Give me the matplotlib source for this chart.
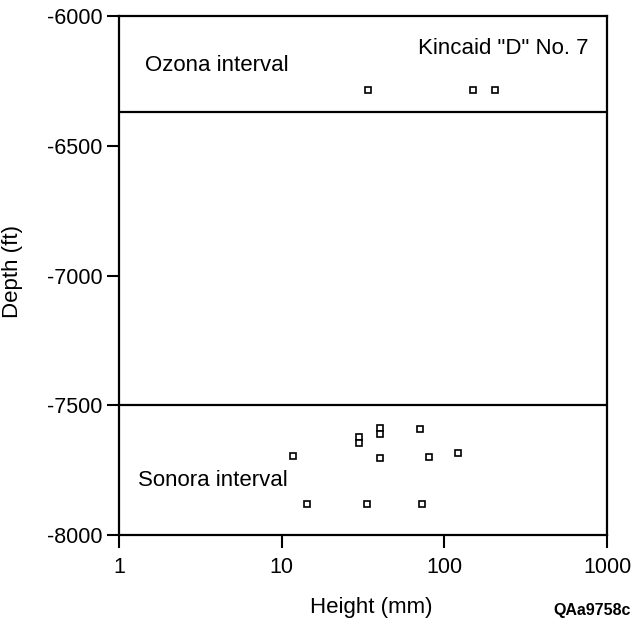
import matplotlib
matplotlib.use('Agg')
import matplotlib.pyplot as plt
from matplotlib.ticker import FixedLocator, NullLocator


# Ozona interval samples
ozona_height = [34, 150, 205]
ozona_depth = [-6285, -6285, -6285]

# Sonora interval samples
sonora_height = [11.8, 30, 30, 40.4, 40.4, 71, 40, 80, 121, 14.4, 33.6, 72.5]
sonora_depth = [-7697, -7621, -7645, -7588, -7611, -7593, -7703, -7699, -7686, -7880, -7880, -7880]

# interval boundaries
boundaries = [-6370, -7500]

x_ticks = [1, 10, 100, 1000]
x_tick_labels = ['1', '10', '100', '1000']
y_ticks = [-8000, -7500, -7000, -6500, -6000]


plt.rcParams['font.family'] = ['Liberation Sans', 'DejaVu Sans']

W, H = 639, 622
fig = plt.figure(figsize = (W / 100, H / 100), dpi = 100)
ax = fig.add_axes([0.186, 0.140, 0.764, 0.834])

for b in boundaries:
    ax.axhline(b, color = 'black', lw = 1.6)

param = dict(ls = 'none', marker = 's', ms = 5, mfc = 'white', mec = 'black', mew = 1.2)
ax.plot(ozona_height, ozona_depth, **param)
ax.plot(sonora_height, sonora_depth, **param)

ax.set_xscale('log')
ax.set_xlim(1, 1000)
ax.set_ylim(-8000, -6000)
ax.xaxis.set_major_locator(FixedLocator(x_ticks))
ax.xaxis.set_minor_locator(NullLocator())
ax.set_xticklabels(x_tick_labels)
ax.set_yticks(y_ticks)
ax.set_yticklabels([str(v) for v in y_ticks])

ax.tick_params(direction = 'out', length = 9, width = 1.5, labelsize = 15.5, pad = 3)
ax.tick_params(axis = 'x', pad = 7)
for s in ax.spines.values():
    s.set_linewidth(1.6)

fig.text(371 / W, 1 - 607 / H, 'Height (mm)', fontsize = 16, ha = 'center', va = 'center')
fig.text(13 / W, 1 - 271 / H, 'Depth (ft)', fontsize = 16, ha = 'center', va = 'center', rotation = 90)

ax.text(0.053, 0.904, 'Ozona interval', transform = ax.transAxes, fontsize = 16, va = 'center', ha = 'left')
ax.text(0.963, 0.938, 'Kincaid "D" No. 7', transform = ax.transAxes, fontsize = 16, va = 'center', ha = 'right')
ax.text(0.039, 0.104, 'Sonora interval', transform = ax.transAxes, fontsize = 16, va = 'center', ha = 'left')

fig.text(631 / W, 1 - 610 / H, 'QAa9758c', fontsize = 11.5, weight = 'bold', ha = 'right', va = 'center')

fig.savefig('out.png', dpi = 100)
